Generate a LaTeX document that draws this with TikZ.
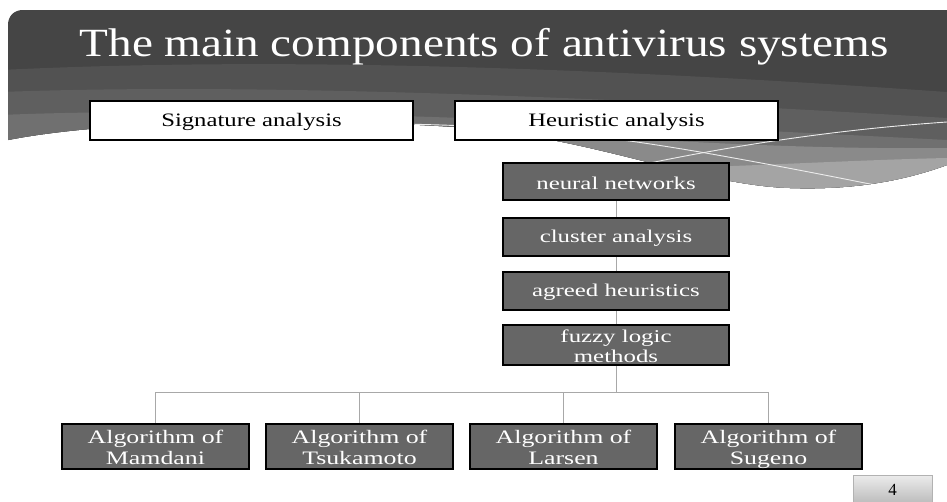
\documentclass[tikz,border=0pt]{standalone}
\usepackage{fontspec}
\setmainfont{Liberation Serif}
\usepackage{graphicx}
\definecolor{hdark}{HTML}{454545}
\definecolor{hmid}{HTML}{525252}
\definecolor{hmid2}{HTML}{5F5F5F}
\definecolor{hlight}{HTML}{707070}
\definecolor{hlight2}{HTML}{8A8A8A}
\definecolor{hlight3}{HTML}{A4A4A4}
\definecolor{boxfill}{HTML}{666666}
\definecolor{conn}{HTML}{A8A8A8}
\newcommand\wx[2]{\raisebox{-1.5pt}[\height][\depth]{\scalebox{#1}[1]{#2}}}
\newcommand\wxx[2]{\raisebox{-3.5pt}[\height][\depth]{\scalebox{#1}[1]{#2}}}
\newcommand\twol[2]{\begin{tabular}{@{}c@{}}#1\\#2\end{tabular}}
\tikzset{
  topbox/.style={draw=black, line width=1.6pt, fill=white, minimum width=323pt, minimum height=39pt, inner sep=0pt, text=black, font=\fontsize{19}{21}\selectfont},
  midbox/.style={draw=black, line width=1.6pt, fill=boxfill, minimum width=226pt, minimum height=38pt, inner sep=0pt, text=white, font=\fontsize{18}{20}\selectfont},
  algbox/.style={draw=black, line width=1.6pt, fill=boxfill, minimum width=187pt, minimum height=45pt, inner sep=0pt, text=white, font=\fontsize{19}{21}\selectfont},
  link/.style={draw=conn, line width=1pt},
  wline/.style={draw=white!85!gray, line width=0.9pt}
}
\begin{document}
\begin{tikzpicture}[x=1pt,y=-1pt]
\useasboundingbox (0,0) rectangle (947,501);
\fill[white] (0,0) rectangle (947,501);
% header
\def\hdr{(8,25) .. controls (8,16) and (14,10) .. (23,10) -- (947,10) -- (947,165) .. controls (900,182) and (850,190) .. (790,188) .. controls (700,185) and (600,140) .. (470,128) .. controls (330,118) and (120,118) .. (8,140) -- cycle}
\fill[hdark] \hdr;
\begin{scope}
\clip \hdr;
\fill[hmid] (0,70) .. controls (250,58) and (550,64) .. (947,92) -- (947,300) -- (0,300) -- cycle;
\fill[hmid2] (0,92) .. controls (220,84) and (520,92) .. (947,118) -- (947,300) -- (0,300) -- cycle;
\fill[hlight] (0,115) .. controls (220,106) and (520,118) .. (947,140) -- (947,300) -- (0,300) -- cycle;
\fill[hlight2] (420,128) .. controls (600,135) and (760,150) .. (947,148) -- (947,300) -- (420,300) -- cycle;
\fill[hlight3] (600,170) .. controls (720,168) and (850,160) .. (947,158) -- (947,300) -- (600,300) -- cycle;
\draw[wline] (400,124) .. controls (520,126) and (600,135) .. (700,152) .. controls (780,166) and (840,178) .. (885,187);
\draw[wline] (640,165) .. controls (760,140) and (860,128) .. (947,122);
\end{scope}
\node[text=white, font=\fontsize{40}{42}\selectfont] (title) at (484,47) {\scalebox{1.18}[1]{The main components of antivirus systems}};
% top boxes
\node[topbox] (sig) at (251.5,120.5) {\wx{1.3}{Signature analysis}};
\node[topbox] (heu) at (616.5,120.5) {\wx{1.3}{Heuristic analysis}};
% middle column
\node[midbox, minimum height=37pt] (nn) at (616,181.5) {\wx{1.38}{neural networks}};
\node[midbox] (ca) at (616,237) {\wx{1.38}{cluster analysis}};
\node[midbox] (ah) at (616,291) {\wx{1.38}{agreed heuristics}};
\node[midbox, minimum height=40pt] (fl) at (616,345) {\wxx{1.38}{\twol{fuzzy logic}{methods}}};
% algorithm boxes
\node[algbox] (a1) at (155.5,446.5) {\wxx{1.36}{\twol{Algorithm of}{Mamdani}}};
\node[algbox] (a2) at (359.5,446.5) {\wxx{1.36}{\twol{Algorithm of}{Tsukamoto}}};
\node[algbox] (a3) at (563.5,446.5) {\wxx{1.36}{\twol{Algorithm of}{Larsen}}};
\node[algbox] (a4) at (768.5,446.5) {\wxx{1.36}{\twol{Algorithm of}{Sugeno}}};
% connectors
\coordinate (bus) at (616,392);
\path[link] (nn) -- (ca);
\path[link] (ca) -- (ah);
\path[link] (ah) -- (fl);
\path[link] (fl) -- (bus);
\path[link] (bus) -| (a1.north);
\path[link] (bus) -| (a2.north);
\path[link] (bus) -| (a3.north);
\path[link] (bus) -| (a4.north);
% page number
\shade[top color=gray!15, bottom color=gray!55, draw=gray!60] (853,475) rectangle (932,505);
\node[font=\fontsize{17}{18}\selectfont, text=black] (pg) at (892.5,490) {4};
\end{tikzpicture}
\end{document}
